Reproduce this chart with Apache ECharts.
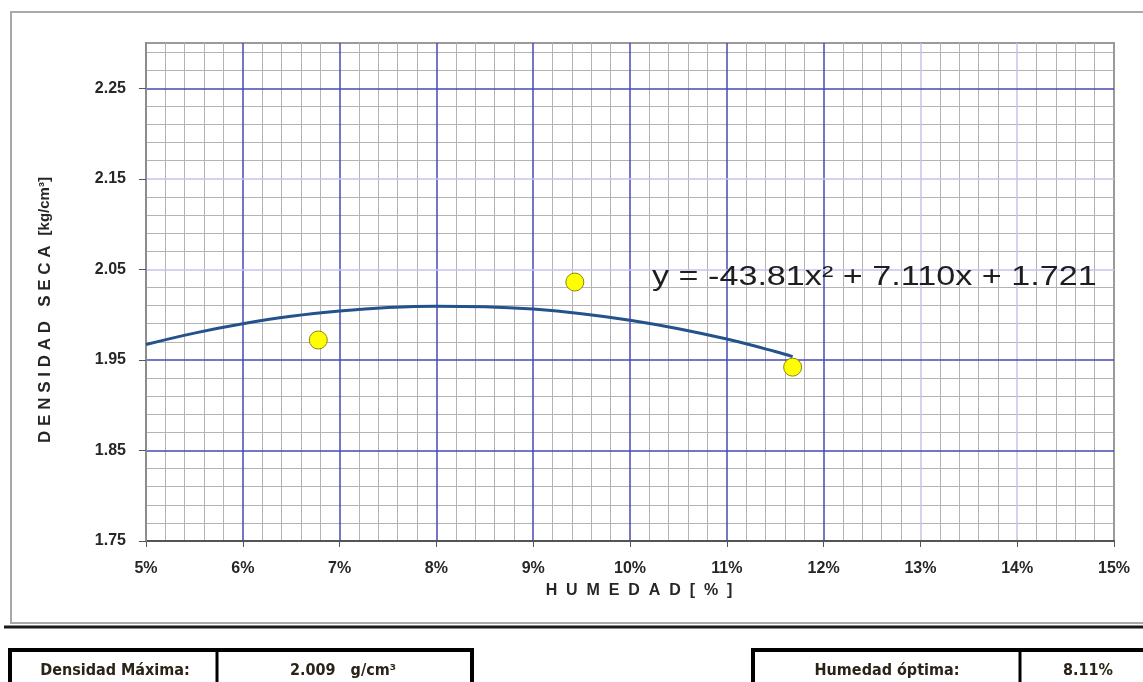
<!DOCTYPE html>
<html><head><meta charset="utf-8">
<script src="https://cdn.jsdelivr.net/npm/echarts@6/dist/echarts.min.js"></script>
<style>html,body{margin:0;padding:0;background:#fff}#c{width:1143px;height:682px}</style>
</head><body><div id="c"></div>
<script>
// ---- data ----
const xMin = 0.05, xMax = 0.15, xStep = 0.01;
const yMin = 1.75, yMax = 2.30;
const yLabelValues = [1.75, 1.85, 1.95, 2.05, 2.15, 2.25];
const yMinorValues = [1.77, 1.79, 1.81, 1.83, 1.87, 1.89, 1.91, 1.93, 1.97, 1.99, 2.01, 2.03,
                      2.07, 2.09, 2.11, 2.13, 2.17, 2.19, 2.21, 2.23, 2.27, 2.29];
const pointsX = [0.0678, 0.0943, 0.1168];
const pointsY = [1.972, 2.036, 1.942];
const curveX = [0.05, 0.055, 0.06, 0.065, 0.07, 0.075, 0.08, 0.085, 0.09, 0.095, 0.10, 0.105, 0.11, 0.115, 0.1168];
const curveY = [1.9670, 1.9796, 1.9899, 1.9981, 2.0039, 2.0078, 2.0094, 2.0088, 2.0061, 2.0011, 1.9939, 1.9845, 1.9730, 1.9593, 1.9537];
const equationText = 'y = -43.81x\u00B2 + 7.110x + 1.721';
const xAxisName = 'H  U  M  E  D  A  D  [  %  ]';
const yAxisNameMain = 'D E N S I D A D   S E C A';
const yAxisNameUnit = '[kg/cm\u00B3]';
const tableLeftLabel = 'Densidad Máxima:';
const tableLeftValue = '2.009   g/cm\u00B3';
const tableRightLabel = 'Humedad óptima:';
const tableRightValue = '8.11%';

// ---- chart ----
const chart = echarts.init(document.getElementById('c'), null, {renderer: 'canvas'});
const BLUE = '#4848b6', LBLUE = '#c4c4ec', GRAY = '#b3b3b3';
const ARIAL = 'Arial, "Liberation Sans", sans-serif';
const labelFont = {fontFamily: ARIAL, fontWeight: 'bold', fontSize: 16, color: '#262626'};
const tableFont = '"Liberation Sans Narrow", "DejaVu Sans Condensed", sans-serif';

const option = {
  animation: false,
  backgroundColor: '#fff',
  grid: {left: 146, right: 29, top: 43, bottom: 141, show: true, borderColor: '#9a9a9a', borderWidth: 2, containLabel: false},
  xAxis: [{
    type: 'value', min: xMin, max: xMax, interval: xStep, z: 1,
    axisLine: {show: true, lineStyle: {color: '#555', width: 2}},
    axisTick: {show: true, inside: false, length: 6, lineStyle: {color: '#555', width: 1}},
    axisLabel: Object.assign({margin: 20, formatter: v => Math.round(v * 100) + '%'}, labelFont),
    splitLine: {show: true, lineStyle: {width: 1.5, color: ['#8c8c8c', BLUE, BLUE, BLUE, BLUE, BLUE, BLUE, BLUE, LBLUE, LBLUE, '#9a9a9a']}},
    minorTick: {show: false, splitNumber: 5},
    minorSplitLine: {show: true, lineStyle: {color: GRAY, width: 1}}
  }],
  yAxis: [{
    type: 'value', min: yMin, max: yMax, z: 2,
    axisLine: {show: true, lineStyle: {color: '#8c8c8c', width: 2}},
    axisTick: {show: true, length: 7, customValues: yLabelValues, lineStyle: {color: '#555'}},
    axisLabel: Object.assign({margin: 20, customValues: yLabelValues, formatter: v => v.toFixed(2)}, labelFont),
    splitLine: {show: true, lineStyle: {width: 1.5, color: ['#555', BLUE, BLUE, LBLUE, LBLUE, BLUE]}}
  }, {
    type: 'value', min: yMin, max: yMax, z: 0, position: 'left',
    axisLine: {show: false},
    axisTick: {show: false, customValues: yMinorValues},
    axisLabel: {show: false},
    splitLine: {show: true, lineStyle: {color: GRAY, width: 1}}
  }],
  series: [{
    type: 'line', xAxisIndex: 0, yAxisIndex: 0, smooth: 0.4, showSymbol: false, symbol: 'none',
    data: curveX.map((x, i) => [x, curveY[i]]),
    lineStyle: {color: '#24528c', width: 3}, z: 3
  }, {
    type: 'scatter', xAxisIndex: 0, yAxisIndex: 0, symbolSize: 18,
    data: pointsX.map((x, i) => [x, pointsY[i]]),
    itemStyle: {color: '#ffff00', borderColor: '#8a8a10', borderWidth: 1, opacity: 1}, z: 4
  }],
  graphic: [
    {type: 'rect', z: -10, silent: true, shape: {x: 11, y: 12, width: 1150, height: 611}, style: {fill: 'none', stroke: '#a8a8a8', lineWidth: 2}},
    {type: 'line', z: 10, silent: true, shape: {x1: 4, y1: 627, x2: 1143, y2: 627}, style: {stroke: '#1a1a1a', lineWidth: 3}},
    {type: 'text', z: 10, silent: true, x: 639, y: 591,
     style: {text: xAxisName, font: 'bold 16px ' + ARIAL, fill: '#262626', align: 'center', verticalAlign: 'middle'}},
    {type: 'text', z: 10, silent: true, x: 45, y: 310, rotation: Math.PI / 2,
     style: {text: '{a|' + yAxisNameMain + '}   {b|' + yAxisNameUnit + '}', align: 'center', verticalAlign: 'middle',
       rich: {a: {font: 'bold 17px ' + ARIAL, fill: '#262626'}, b: {font: 'bold 15px ' + ARIAL, fill: '#262626'}}}},
    {type: 'text', z: 10, silent: true, x: 652, y: 277, scaleX: 1.22,
     style: {text: equationText, font: '28px ' + ARIAL, fill: '#1e1e1e', verticalAlign: 'middle', align: 'left'}},
    {type: 'rect', z: 10, silent: true, shape: {x: 10, y: 650, width: 462, height: 60}, style: {fill: 'none', stroke: '#000', lineWidth: 4}},
    {type: 'line', z: 10, silent: true, shape: {x1: 217, y1: 650, x2: 217, y2: 690}, style: {stroke: '#000', lineWidth: 3}},
    {type: 'text', z: 10, silent: true, x: 115, y: 671, style: {text: tableLeftLabel, font: 'bold 16px ' + tableFont, fill: '#2a2418', align: 'center', verticalAlign: 'middle'}},
    {type: 'text', z: 10, silent: true, x: 343, y: 671, style: {text: tableLeftValue, font: 'bold 16px ' + tableFont, fill: '#2a2418', align: 'center', verticalAlign: 'middle'}},
    {type: 'rect', z: 10, silent: true, shape: {x: 753, y: 650, width: 430, height: 60}, style: {fill: 'none', stroke: '#000', lineWidth: 4}},
    {type: 'line', z: 10, silent: true, shape: {x1: 1020, y1: 650, x2: 1020, y2: 690}, style: {stroke: '#000', lineWidth: 3}},
    {type: 'text', z: 10, silent: true, x: 887, y: 671, style: {text: tableRightLabel, font: 'bold 16px ' + tableFont, fill: '#2a2418', align: 'center', verticalAlign: 'middle'}},
    {type: 'text', z: 10, silent: true, x: 1088, y: 671, style: {text: tableRightValue, font: 'bold 16px ' + tableFont, fill: '#2a2418', align: 'center', verticalAlign: 'middle'}}
  ]
};
chart.setOption(option);
</script>
</body></html>
